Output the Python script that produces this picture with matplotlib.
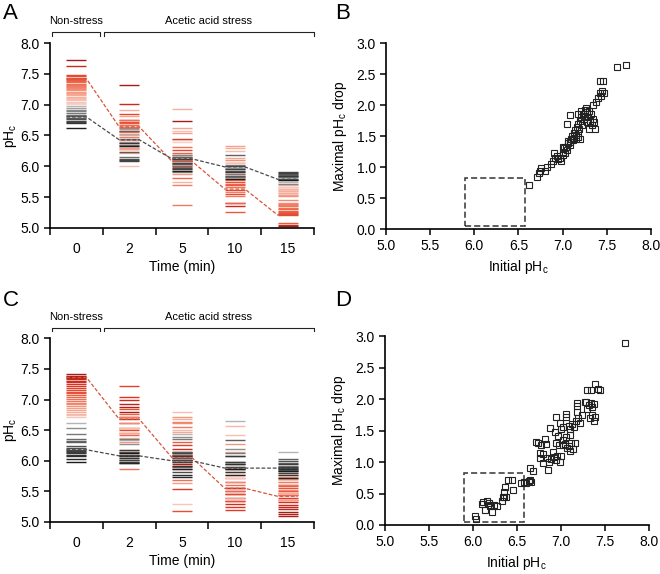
import numpy as np
import matplotlib.pyplot as plt
import matplotlib.transforms as mtransforms
from matplotlib.colors import LinearSegmentedColormap, TwoSlopeNorm
from matplotlib.patches import Rectangle

plt.rcParams['font.family'] = ['Liberation Sans', 'DejaVu Sans']

times = ['0', '2', '5', '10', '15']

# panel A: pHc of each cell at 0, 2, 5, 10, 15 min
a_cells = np.array([
    [7.72, 7.32, 6.74, 5.41, 5.03],
    [7.62, 7.01, 6.45, 5.35, 5.05],
    [7.48, 6.85, 6.26, 5.62, 5.21],
    [7.46, 6.75, 6.02, 5.55, 5.22],
    [7.44, 6.72, 6.10, 5.75, 5.24],
    [7.42, 6.70, 6.15, 5.69, 5.26],
    [7.40, 6.67, 5.99, 5.26, 5.08],
    [7.38, 6.63, 6.22, 5.72, 5.28],
    [7.36, 6.57, 5.81, 5.41, 5.30],
    [7.34, 6.75, 6.32, 5.78, 5.32],
    [7.32, 6.55, 6.05, 5.67, 5.35],
    [7.30, 6.48, 5.37, 5.51, 5.37],
    [7.29, 6.43, 5.69, 5.58, 5.39],
    [7.27, 6.60, 6.18, 5.83, 5.41],
    [7.25, 6.30, 5.93, 5.85, 5.45],
    [7.23, 6.52, 6.12, 6.10, 5.51],
    [7.21, 6.28, 5.87, 5.88, 5.53],
    [7.19, 6.37, 6.54, 6.33, 5.56],
    [7.17, 6.82, 6.62, 6.13, 5.60],
    [7.15, 6.21, 6.08, 5.91, 5.63],
    [7.13, 6.92, 6.93, 6.30, 5.67],
    [7.11, 6.45, 5.75, 5.81, 5.70],
    [7.09, 6.00, 6.42, 6.24, 5.61],
    [7.07, 6.35, 6.58, 6.05, 5.55],
    [7.05, 6.65, 6.02, 5.93, 5.66],
    [7.03, 6.32, 5.96, 5.97, 5.58],
    [7.01, 6.26, 6.40, 6.07, 5.64],
    [6.98, 6.50, 6.12, 6.00, 5.75],
    [6.95, 6.40, 6.05, 5.97, 5.78],
    [6.92, 6.62, 5.90, 5.95, 5.80],
    [6.90, 6.45, 6.18, 6.02, 5.72],
    [6.87, 6.35, 6.08, 5.88, 5.82],
    [6.84, 6.15, 6.00, 5.83, 5.84],
    [6.81, 6.58, 6.15, 6.18, 5.86],
    [6.79, 6.23, 6.03, 5.85, 5.88],
    [6.76, 6.12, 5.98, 5.93, 5.79],
    [6.73, 6.10, 6.06, 6.00, 5.90],
    [6.72, 6.08, 5.95, 5.96, 5.89],
    [6.70, 6.38, 6.12, 5.90, 5.85],
    [6.62, 6.33, 5.92, 5.80, 5.77],
])
a_mean_high = [7.42, 6.64, 6.08, 5.63, 5.21]
a_mean_low = [6.80, 6.43, 6.12, 5.99, 5.79]
a_split = 7.0

# panel B: initial pHc vs maximal pHc drop
b_initial = [6.62, 6.71, 6.73, 6.75, 6.76, 6.80, 6.82, 6.87, 6.89, 6.90, 6.92, 6.94,
             6.95, 6.97, 6.98, 7.00, 7.01, 7.02, 7.03, 7.04, 7.05, 7.06, 7.06, 7.08,
             7.09, 7.10, 7.11, 7.12, 7.13, 7.13, 7.14, 7.15, 7.15, 7.16, 7.17, 7.17,
             7.18, 7.18, 7.19, 7.20, 7.20, 7.21, 7.21, 7.22, 7.23, 7.24, 7.25, 7.26,
             7.27, 7.28, 7.28, 7.29, 7.30, 7.30, 7.31, 7.32, 7.33, 7.34, 7.35, 7.36,
             7.37, 7.38, 7.40, 7.42, 7.43, 7.44, 7.45, 7.46, 7.47, 7.62, 7.72, 7.05,
             7.08, 7.01]
b_drop = [0.71, 0.84, 0.90, 0.93, 0.98, 0.94, 1.00, 1.05, 1.10, 1.22, 1.15, 1.18,
          1.13, 1.15, 1.10, 1.20, 1.25, 1.30, 1.22, 1.33, 1.27, 1.38, 1.42, 1.35,
          1.40, 1.45, 1.50, 1.43, 1.55, 1.47, 1.60, 1.52, 1.45, 1.65, 1.70, 1.48,
          1.55, 1.85, 1.62, 1.75, 1.45, 1.80, 1.90, 1.68, 1.85, 1.78, 1.92, 1.82,
          1.95, 1.72, 1.88, 1.80, 1.90, 1.62, 1.75, 1.85, 1.68, 1.78, 2.00, 1.72,
          1.62, 2.05, 2.12, 2.20, 2.38, 2.15, 2.22, 2.38, 2.20, 2.62, 2.65, 1.69,
          1.84, 1.33]

# panel C: pHc of each cell at 0, 2, 5, 10, 15 min
c_cells = np.array([
    [7.41, 6.80, 6.09, 5.50, 5.17],
    [7.39, 6.72, 5.95, 5.45, 5.09],
    [7.37, 6.88, 6.15, 5.55, 5.13],
    [7.35, 6.93, 6.07, 5.40, 5.22],
    [7.33, 6.68, 6.01, 5.35, 5.24],
    [7.30, 6.99, 6.20, 5.55, 5.28],
    [7.28, 6.53, 5.98, 5.30, 5.32],
    [7.25, 7.04, 6.12, 5.25, 5.36],
    [7.22, 6.61, 5.54, 5.20, 5.40],
    [7.19, 7.22, 6.26, 5.66, 5.44],
    [7.16, 6.50, 5.87, 5.45, 5.47],
    [7.13, 6.84, 5.18, 5.35, 5.50],
    [7.10, 6.46, 6.04, 5.72, 5.55],
    [7.07, 6.76, 6.31, 5.77, 5.58],
    [7.04, 6.42, 5.92, 5.50, 5.60],
    [7.01, 5.87, 5.68, 5.60, 5.44],
    [6.98, 6.72, 6.55, 5.82, 5.65],
    [6.95, 6.14, 6.64, 5.86, 5.70],
    [6.92, 6.61, 6.61, 5.66, 5.52],
    [6.89, 6.30, 6.72, 6.28, 5.74],
    [6.86, 6.17, 5.63, 5.40, 5.36],
    [6.83, 6.46, 6.47, 6.15, 5.77],
    [6.80, 6.04, 6.68, 5.94, 5.48],
    [6.77, 6.38, 6.51, 6.57, 5.80],
    [6.74, 6.53, 6.79, 6.42, 5.68],
    [6.71, 5.98, 5.30, 5.72, 5.62],
    [6.62, 6.34, 6.43, 6.65, 6.14],
    [6.53, 6.28, 6.39, 6.20, 5.88],
    [6.43, 6.36, 6.36, 6.12, 5.92],
    [6.36, 6.10, 6.09, 5.90, 5.85],
    [6.33, 6.07, 5.90, 6.07, 5.96],
    [6.30, 6.01, 6.15, 6.34, 6.03],
    [6.24, 6.14, 6.04, 5.98, 6.00],
    [6.21, 5.96, 5.82, 5.94, 5.88],
    [6.18, 6.10, 6.12, 5.90, 5.83],
    [6.16, 6.01, 5.98, 5.86, 5.80],
    [6.14, 5.98, 6.01, 5.98, 5.94],
    [6.12, 6.17, 6.07, 6.07, 5.90],
    [6.10, 6.04, 5.92, 5.82, 5.77],
    [6.07, 6.07, 5.77, 5.94, 5.86],
    [6.03, 5.96, 5.74, 5.77, 5.72],
    [5.98, 6.12, 5.87, 5.86, 5.84],
])
c_mean_high = [7.36, 6.68, 6.05, 5.55, 5.42]
c_mean_low = [6.18, 6.08, 6.00, 5.88, 5.88]
c_split = 6.66

# panel D: initial pHc vs maximal pHc drop
d_initial = [6.02, 6.04, 6.10, 6.12, 6.14, 6.16, 6.18, 6.19, 6.20, 6.22, 6.24, 6.27,
             6.33, 6.34, 6.35, 6.36, 6.37, 6.38, 6.40, 6.45, 6.46, 6.55, 6.58, 6.61,
             6.64, 6.65, 6.66, 6.65, 6.68, 6.72, 6.74, 6.76, 6.76, 6.78, 6.80, 6.82,
             6.84, 6.86, 6.87, 6.89, 6.91, 6.92, 6.94, 6.95, 6.96, 6.97, 6.98, 6.99,
             7.00, 7.02, 7.03, 7.05, 7.06, 7.07, 7.09, 7.10, 7.11, 7.12, 7.14, 7.16,
             6.88, 6.95, 6.99, 7.06, 7.06, 6.93, 7.00, 7.02, 7.09, 7.11, 7.13, 7.15,
             7.17, 7.18, 7.18, 7.18, 7.20, 7.22, 7.24, 7.27, 7.29, 7.30, 7.32, 7.34,
             7.36, 7.38, 7.33, 7.36, 7.38, 7.39, 7.30, 7.34, 7.39, 7.42, 7.44, 7.73,
             6.80, 6.83]
d_drop = [0.14, 0.09, 0.34, 0.37, 0.24, 0.38, 0.35, 0.32, 0.30, 0.20, 0.31, 0.30,
          0.38, 0.45, 0.52, 0.45, 0.60, 0.45, 0.71, 0.72, 0.55, 0.66, 0.68, 0.67,
          0.70, 0.72, 0.68, 0.90, 0.85, 1.32, 1.30, 1.15, 1.06, 1.27, 0.98, 1.36,
          1.06, 0.88, 1.00, 1.05, 1.16, 1.08, 1.30, 1.03, 1.10, 1.42, 1.27, 1.00,
          1.10, 1.27, 1.35, 1.28, 1.40, 1.22, 1.25, 1.18, 1.43, 1.30, 1.20, 1.31,
          1.54, 1.72, 1.62, 1.77, 1.72, 1.48, 1.52, 1.55, 1.58, 1.53, 1.60, 1.55,
          1.65, 1.79, 1.93, 1.89, 1.70, 1.62, 1.75, 1.95, 1.95, 1.85, 1.90, 1.93,
          1.88, 1.92, 1.70, 1.74, 1.65, 1.72, 2.15, 2.14, 2.24, 2.16, 2.15, 2.89,
          1.12, 1.28]

# region of low-drop cells marked with a dashed box
box_ph = (5.9, 6.58)
box_drop = (0.05, 0.83)

cmap = LinearSegmentedColormap.from_list('cells', [
    (0.0, '#1c1c1c'), (0.2, '#555555'), (0.4, '#8c8c8c'), (0.499, '#c4c4c4'),
    (0.5, '#f6d3ca'), (0.62, '#f6a590'), (0.78, '#ec5a3e'), (0.9, '#dc301e'),
    (1.0, '#a51d18')])


def style_axes(ax):
    for s in ['top', 'right']:
        ax.spines[s].set_visible(False)
    for s in ['left', 'bottom']:
        ax.spines[s].set_linewidth(1.2)
    ax.tick_params(labelsize=10, width=1.1, length=4)


def time_panel(ax, cells, mean_hi, mean_lo, split):
    norm = TwoSlopeNorm(vmin=cells[:, 0].min(), vcenter=split, vmax=cells[:, 0].max())
    cols = cmap(norm(cells[:, 0]))
    hw = 0.19
    n = len(times)
    for j in range(n):
        ax.hlines(cells[:, j], j - hw, j + hw, colors=cols, lw=1.0)
    xs = np.repeat(np.arange(n), 2) + np.tile([-hw, hw], n)
    ax.plot(xs, np.repeat(mean_hi, 2), ls=(0, (3, 1.5)), color='#d9553a', lw=0.9)
    ax.plot(xs, np.repeat(mean_lo, 2), ls=(0, (3, 1.5)), color='#4a4a4a', lw=0.9)

    style_axes(ax)
    ax.set_xlim(-0.5, n - 0.5)
    ax.set_ylim(5, 8)
    ax.set_yticks(np.arange(5, 8.01, 0.5))
    ax.yaxis.set_major_formatter('{x:.1f}')
    ax.set_xticks(range(n))
    ax.set_xticklabels(times)
    ax.set_xticks(np.arange(-0.5, n, 1), minor=True)
    ax.tick_params(axis='x', which='major', length=0, pad=10)
    ax.tick_params(axis='x', which='minor', length=5, width=1.1)
    ax.set_xlabel('Time (min)', fontsize=10, labelpad=3)
    ax.set_ylabel('pH$_\\mathregular{c}$', fontsize=10, labelpad=1)

    tr = mtransforms.blended_transform_factory(ax.transData, ax.transAxes)
    for x0, x1, lab in [(-0.46, 0.45, 'Non-stress'), (0.52, n - 0.5, 'Acetic acid stress')]:
        ax.plot([x0, x0, x1, x1], [1.04, 1.058, 1.058, 1.04], transform=tr,
                clip_on=False, color='#222222', lw=0.8)
        ax.text((x0 + x1) / 2, 1.09, lab, transform=tr, ha='center', va='bottom',
                fontsize=8)


def scatter_panel(ax, x, y):
    ax.plot(x, y, 's', mfc='none', mec='#222222', ms=4.3, mew=0.8, ls='none',
            clip_on=False)
    ax.add_patch(Rectangle((box_ph[0], box_drop[0]), box_ph[1] - box_ph[0],
                           box_drop[1] - box_drop[0], fill=False,
                           ls=(0, (4, 2)), ec='#333333', lw=1.1))
    style_axes(ax)
    ax.set_xlim(5, 8)
    ax.set_ylim(0, 3)
    ax.set_xticks(np.arange(5, 8.01, 0.5))
    ax.set_yticks(np.arange(0, 3.01, 0.5))
    ax.xaxis.set_major_formatter('{x:.1f}')
    ax.yaxis.set_major_formatter('{x:.1f}')
    ax.set_xlabel('Initial pH$_\\mathregular{c}$', fontsize=10, labelpad=3)
    ax.set_ylabel('Maximal pH$_\\mathregular{c}$ drop', fontsize=10, labelpad=5)


fig = plt.figure(figsize=(6.6, 5.74), dpi=100)

ax_a = fig.add_axes([0.0758, 0.603, 0.400, 0.322])
ax_b = fig.add_axes([0.585, 0.601, 0.401, 0.324])
ax_c = fig.add_axes([0.0758, 0.0906, 0.400, 0.320])
ax_d = fig.add_axes([0.583, 0.0854, 0.400, 0.329])

time_panel(ax_a, a_cells, a_mean_high, a_mean_low, a_split)
scatter_panel(ax_b, b_initial, b_drop)
time_panel(ax_c, c_cells, c_mean_high, c_mean_low, c_split)
scatter_panel(ax_d, d_initial, d_drop)

for lab, x, y in [('A', 0.004, 0.995), ('B', 0.508, 0.995),
                  ('C', 0.004, 0.495), ('D', 0.508, 0.495)]:
    fig.text(x, y, lab, fontsize=16, va='top', ha='left')

fig.savefig('out.png', dpi=100)
